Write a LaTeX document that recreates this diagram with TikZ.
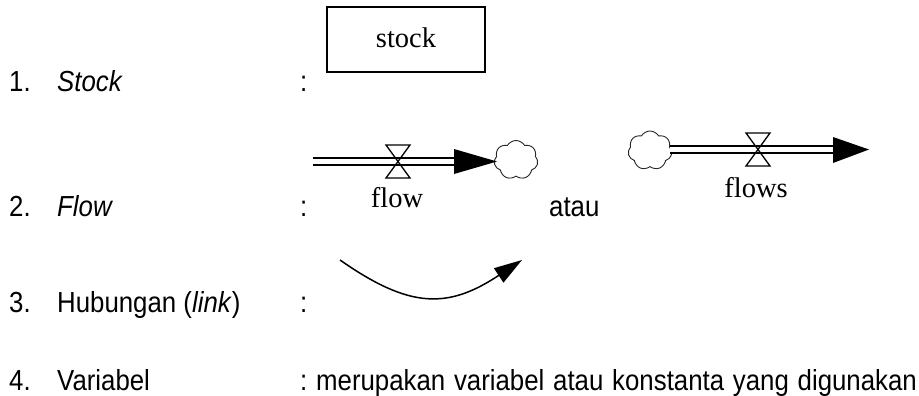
\documentclass[tikz,border=0pt]{standalone}
\usepackage{fontspec}
\setmainfont{Liberation Serif}
\newfontfamily\sansf[FakeStretch=0.89]{Liberation Sans}
\usetikzlibrary{shapes.symbols,arrows.meta}
\newcommand{\wsp}{\hskip 8.8pt\relax}
\tikzset{
  lbl/.style={font=\sansf\fontsize{29}{30}\selectfont, anchor=base west, inner sep=0pt},
  ser/.style={font=\fontsize{28.5}{30}\selectfont, anchor=base, inner sep=0pt},
  pipe/.style={double, double distance=5.7pt, line width=1.3pt},
  valve/.style={line width=1.3pt},
  cloudn/.style={cloud, draw, draw=black!85, line width=0.9pt, cloud puffs=7, cloud puff arc=120, aspect=1.15, inner sep=0pt, minimum width=44pt, minimum height=39pt},
  headfill/.style={fill=black}
}
\begin{document}
\begin{tikzpicture}[x=1pt,y=-1pt]
\useasboundingbox (0,0) rectangle (919,396);
% left column
\node[lbl] (n1) at (9,92) {1.};
\node[lbl] (t1) at (57,92) {\itshape Stock};
\node[lbl] (k1) at (300,92) {:};
\node[lbl] (n2) at (9,216) {2.};
\node[lbl] (t2) at (57,216) {\itshape Flow};
\node[lbl] (k2) at (300,216) {:};
\node[lbl] (n3) at (9,312) {3.};
\node[lbl] (t3) at (57,312) {Hubungan (\textit{link})};
\node[lbl] (k3) at (300,312) {:};
\node[lbl] (n4) at (9,390) {4.};
\node[lbl] (t4) at (57,390) {Variabel};
\node[lbl] (k4) at (300,390) {:\wsp merupakan\wsp variabel\wsp atau\wsp konstanta\wsp yang\wsp digunakan};
% stock
\node[draw, line width=1.2pt, minimum width=158pt, minimum height=65pt, inner sep=0pt] (stock) at (406,39.5) {};
\node[ser] (stocktxt) at (406,48) {stock};
% flow 1
\coordinate (f1s) at (313,161.5);
\coordinate (f1b) at (454,161.5);
\node[cloudn] (c1) at (516,160) {};
\draw[pipe] (f1s) -- (f1b);
\draw[valve] (386,145) -- (410,145) -- (386,178) -- (410,178) -- cycle;
\fill[headfill] (454,149) -- (497,161.5) -- (454,174) -- cycle;
\node[ser] (flowtxt) at (397,207) {flow};
% atau
\node[lbl] (atau) at (549,216) {atau};
% flow 2
\node[cloudn] (c2) at (650,150.5) {};
\coordinate (f2s) at (670,149.5);
\coordinate (f2b) at (833,149.5);
\draw[pipe] (f2s) -- (f2b);
\draw[valve] (746,133) -- (770,133) -- (746,166) -- (770,166) -- cycle;
\fill[headfill] (833,137) -- (869,149.5) -- (833,163) -- cycle;
\node[ser] (flowstxt) at (756,197) {flows};
% link
\coordinate (l1) at (340,260);
\coordinate (l2) at (522,260);
\draw[line width=1.5pt, -{Triangle[length=28pt,width=17pt]}] (l1) .. controls (410,309) and (448,309) .. (l2);
\end{tikzpicture}
\end{document}
